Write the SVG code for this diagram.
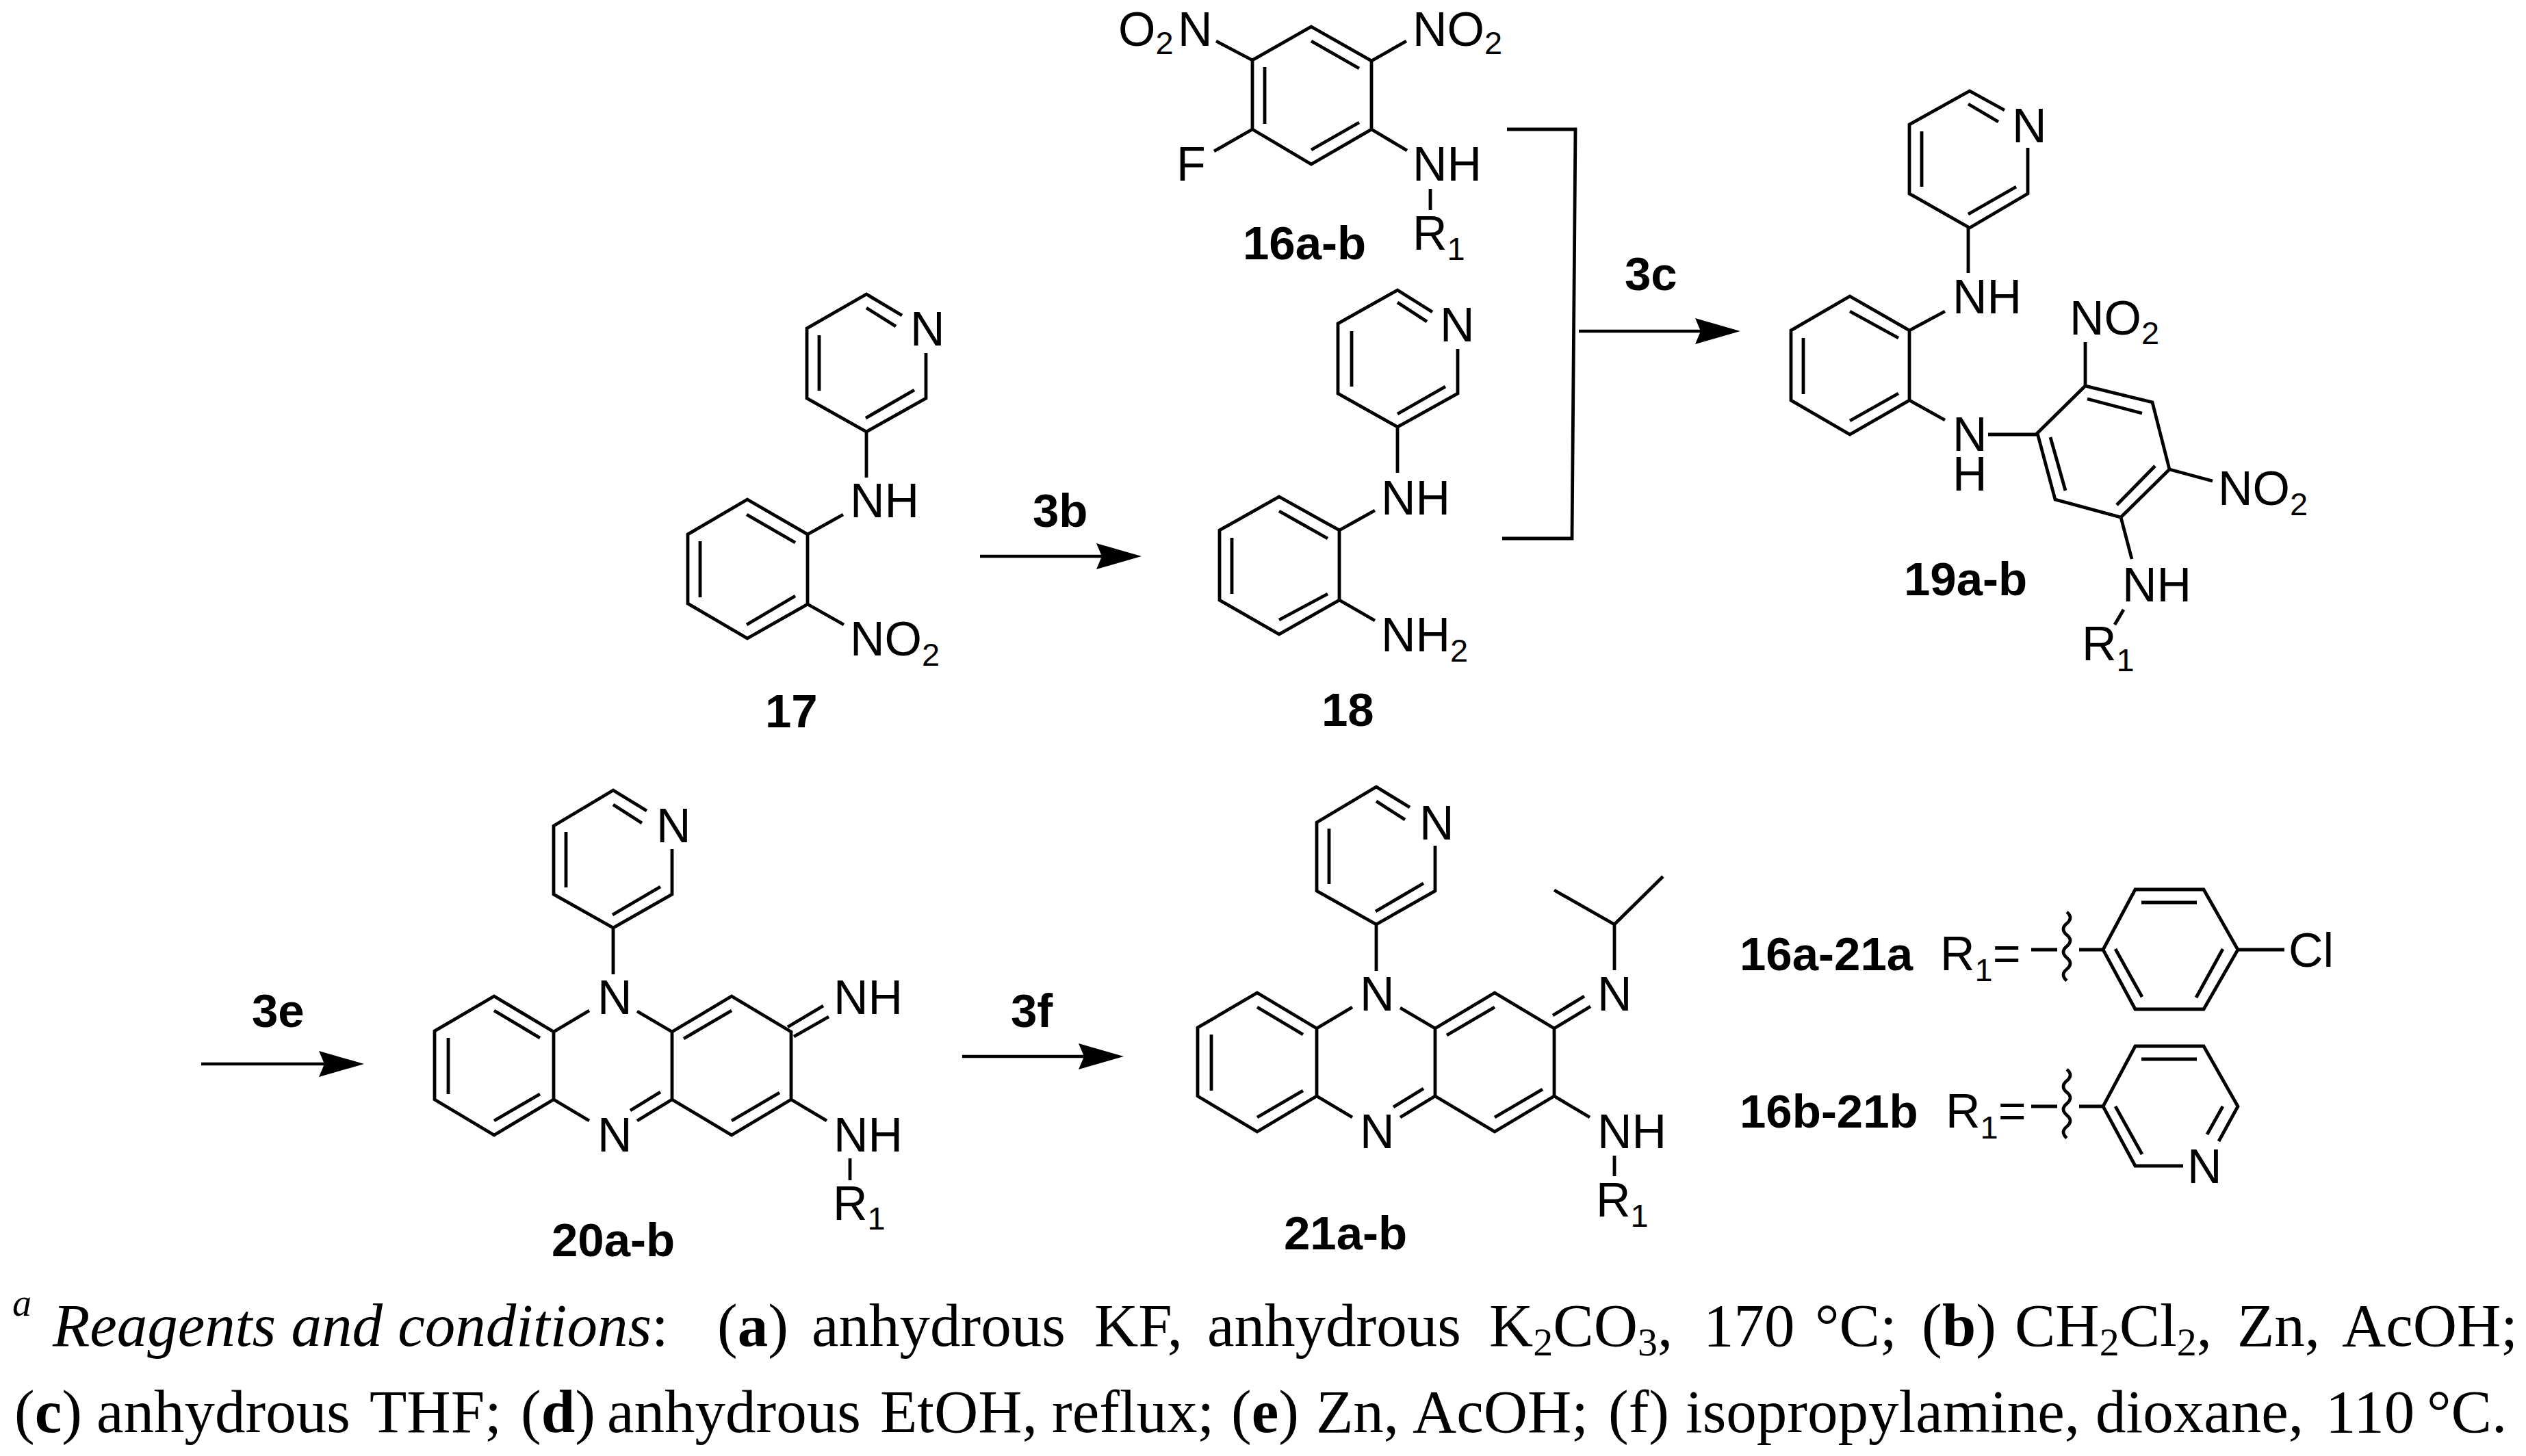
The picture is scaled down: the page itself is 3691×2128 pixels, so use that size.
<svg xmlns="http://www.w3.org/2000/svg" xmlns:xlink="http://www.w3.org/1999/xlink" width="3691" height="2128" viewBox="0 0 3691 2128">
<style>
.k{fill:none;stroke:#000;stroke-width:4.8;stroke-linecap:butt;stroke-linejoin:miter}
.a{fill:none;stroke:#000;stroke-width:4.4;marker-end:url(#ah)}
text{font-family:"Liberation Sans",Arial,sans-serif;font-size:70px;fill:#000}
text.l{font-weight:bold;font-size:69px}
.s{font-size:47px}
text.c{font-family:"Liberation Serif","Times New Roman",serif;font-size:89px}
.i{font-style:italic}
.cb{font-weight:bold}
.cs{font-size:58px}
</style>
<defs>
<marker id="ah" markerUnits="userSpaceOnUse" markerWidth="66" markerHeight="38" viewBox="0 0 66 38" refX="46" refY="19" orient="auto"><path d="M0 0L66 19L0 38L8 19Z" fill="#000"/></marker>
<g id="core">
<path class="k" d="M945 1185L896 1155L809 1207V1307L896 1356L982 1307V1241M896 1176L938 1203M827 1216V1297M895 1337L965 1296M896 1356V1424"/>
<path class="k" d="M722 1456L809 1508V1607L722 1659L635 1607V1507ZM722 1477L789 1517M655 1517V1599M722 1638L789 1599M809 1508L861 1477M809 1607L861 1638"/>
<path class="k" d="M931 1478L982 1508V1607L931 1638M965 1596L921 1623M982 1508L1069 1456L1156 1508V1607L1069 1659L982 1607M999 1518L1069 1477M1069 1638L1139 1597M1156 1607L1208 1638"/>
</g>
</defs>
<rect width="3691" height="2128" fill="#fff"/>
<g id="connectors">
<path class="k" d="M2202 189H2302L2297 787H2195"/>
<line class="a" x1="1432" y1="813" x2="1648" y2="813"/>
<line class="a" x1="2307" y1="484" x2="2523" y2="484"/>
<line class="a" x1="294" y1="1555" x2="512" y2="1555"/>
<line class="a" x1="1406" y1="1544" x2="1622" y2="1544"/>
<text class="l" x="1509" y="770">3b</text>
<text class="l" x="2374" y="424">3c</text>
<text class="l" x="368" y="1501">3e</text>
<text class="l" x="1477" y="1501">3f</text>
</g>
<g id="n16">
<path class="k" d="M1916 39L2004 89V189L1916 240L1830 189V88ZM1916 60L1986 100M1848 98V181M1916 219L1986 179M1830 88L1777 60M2004 89L2055 60M1830 189L1774 221M2004 189L2056 220M2090 276V307"/>
<text x="1634" y="67">O<tspan class="s" dy="12">2</tspan><tspan dy="-12" x="1721">N</tspan></text>
<text x="2064" y="67">NO<tspan class="s" dy="12">2</tspan></text>
<text x="1719" y="264">F</text>
<text x="2064" y="264">NH</text>
<text x="2064" y="365">R<tspan class="s" dy="15">1</tspan></text>
<text class="l" x="1816" y="379">16a-b</text>
</g>
<g id="n17">
<path class="k" d="M1318 461L1266 430L1179 480V582L1266 631L1353 582V516M1266 450L1309 477M1197 490V571M1265 611L1336 570M1266 631V698"/>
<path class="k" d="M1092 730L1180 781V883L1092 933L1005 882V781ZM1091 752L1162 793M1023 791V873M1091 913L1162 871M1180 781L1232 752M1180 883L1233 913"/>
<text x="1330" y="505">N</text>
<text x="1242" y="756">NH</text>
<text x="1242" y="958">NO<tspan class="s" dy="15">2</tspan></text>
<text class="l" x="1118" y="1063">17</text>
</g>
<g id="n18">
<path class="k" d="M2093 456L2042 424L1955 473V575L2042 624L2130 575V510M2042 442L2085 470M1975 484V565M2042 605L2112 565M2042 624V691"/>
<path class="k" d="M1869 726L1957 775V877L1869 927L1782 877V775ZM1869 747L1940 787M1800 786V868M1869 906L1940 868M1957 775L2009 746M1957 877L2009 907"/>
<text x="2104" y="499">N</text>
<text x="2018" y="752">NH</text>
<text x="2018" y="952">NH<tspan class="s" dy="15">2</tspan></text>
<text class="l" x="1931" y="1061">18</text>
</g>
<g id="n19">
<path class="k" d="M2929 161L2878 133L2790 182V283L2878 333L2963 283V216M2876 152L2920 178M2808 192V273M2876 313L2946 273M2876 333V399"/>
<path class="k" d="M2703 433L2790 483V585L2703 635L2617 585V483ZM2703 455L2774 494M2635 494V576M2703 615L2774 575M2790 483L2842 455M2790 585L2842 614M2905 635H2977"/>
<path class="k" d="M2977 633L3047 564L3145 588L3170 686L3099 756L3003 730ZM3050 583L3130 604M3149 681L3093 738M2996 639L3018 717M3047 564V500M3170 686L3233 703M3099 756L3115 817M3103 891L3090 913"/>
<text x="2940" y="208">N</text>
<text x="2853" y="458">NH</text>
<text x="2853" y="659">N<tspan x="2853" dy="58">H</tspan></text>
<text x="3024" y="489">NO<tspan class="s" dy="14">2</tspan></text>
<text x="3241" y="738">NO<tspan class="s" dy="15">2</tspan></text>
<text x="3101" y="879">NH</text>
<text x="3042" y="965">R<tspan class="s" dy="16">1</tspan></text>
<text class="l" x="2782" y="870">19a-b</text>
</g>
<g id="n20">
<use href="#core" xlink:href="#core"/>
<path class="k" d="M1151 1501L1203 1470M1160 1515L1211 1486M1242 1693V1725"/>
<text x="959" y="1231">N</text>
<text x="873" y="1482">N</text>
<text x="873" y="1683">N</text>
<text x="1218" y="1482">NH</text>
<text x="1218" y="1683">NH</text>
<text x="1217" y="1783">R<tspan class="s" dy="14">1</tspan></text>
<text class="l" x="806" y="1836">20a-b</text>
</g>
<g id="n21">
<use href="#core" xlink:href="#core" transform="translate(1115 -5)"/>
<path class="k" d="M2271 1503L2324 1471M2269 1484L2315 1456M2359 1418V1351M2271 1301L2359 1351L2430 1281M2359 1689V1719"/>
<text x="2074" y="1227">N</text>
<text x="1987" y="1477">N</text>
<text x="1987" y="1678">N</text>
<text x="2334" y="1477">N</text>
<text x="2334" y="1678">NH</text>
<text x="2332" y="1778">R<tspan class="s" dy="15">1</tspan></text>
<text class="l" x="1876" y="1826">21a-b</text>
</g>
<g id="legend-a">
<text class="l" x="2542" y="1418">16a-21a</text>
<text x="2835" y="1418">R<tspan class="s" dy="16">1</tspan><tspan dy="-16">=</tspan></text>
<path class="k" d="M2968 1388H3006M3038 1388H3073M3020 1333q10 8 0 16.7q-10 8 0 16.7q10 8 0 16.7q-10 8 0 16.7q10 8 0 16.7q-10 8 0 16.7"/>
<path class="k" d="M3073 1388L3120 1300H3220L3270 1388L3220 1475H3120ZM3129 1319H3210M3091 1387L3130 1457M3248 1387L3209 1458M3270 1388H3338"/>
<text x="3344" y="1413">Cl</text>
</g>
<g id="legend-b">
<text class="l" x="2542" y="1648">16b-21b</text>
<text x="2843" y="1648">R<tspan class="s" dy="16">1</tspan><tspan dy="-16">=</tspan></text>
<path class="k" d="M2968 1617H3006M3038 1617H3073M3020 1563q10 8 0 16.7q-10 8 0 16.7q10 8 0 16.7q-10 8 0 16.7q10 8 0 16.7q-10 8 0 16.7"/>
<path class="k" d="M3190 1704H3120L3073 1617L3120 1529H3220L3270 1617L3242 1668M3129 1548H3210M3091 1617L3130 1687M3248 1617L3225 1658"/>
<text x="3196" y="1729">N</text>
</g>
<g id="caption">
<text class="c i" x="18" y="1923" style="font-size:56px">a</text>
<text class="c" y="1967"><tspan class="i" x="77">Reagents and conditions</tspan>: <tspan x="1048">(<tspan class="cb">a</tspan>) </tspan><tspan x="1186">anhydrous </tspan><tspan x="1599">KF, </tspan><tspan x="1764">anhydrous </tspan><tspan x="2176">K<tspan class="cs" dy="14">2</tspan><tspan dy="-14">CO</tspan><tspan class="cs" dy="14">3</tspan><tspan dy="-14">, </tspan></tspan><tspan x="2489">170 </tspan><tspan x="2652">°C; </tspan><tspan x="2808">(<tspan class="cb">b</tspan>) </tspan><tspan x="2944">CH<tspan class="cs" dy="14">2</tspan><tspan dy="-14">Cl</tspan><tspan class="cs" dy="14">2</tspan><tspan dy="-14">, </tspan></tspan><tspan x="3269">Zn, </tspan><tspan x="3422">AcOH;</tspan></text>
<text class="c" y="2093"><tspan x="21">(<tspan class="cb">c</tspan>) </tspan><tspan x="141">anhydrous </tspan><tspan x="540">THF; </tspan><tspan x="761">(<tspan class="cb">d</tspan>) </tspan><tspan x="887">anhydrous </tspan><tspan x="1286">EtOH, </tspan><tspan x="1537">reflux; </tspan><tspan x="1799">(<tspan class="cb">e</tspan>) </tspan><tspan x="1923">Zn, </tspan><tspan x="2064">AcOH; </tspan><tspan x="2350">(f) </tspan><tspan x="2463">isopropylamine, </tspan><tspan x="3062">dioxane, </tspan><tspan x="3398">110 </tspan><tspan x="3546">°C.</tspan></text>
</g>
</svg>
